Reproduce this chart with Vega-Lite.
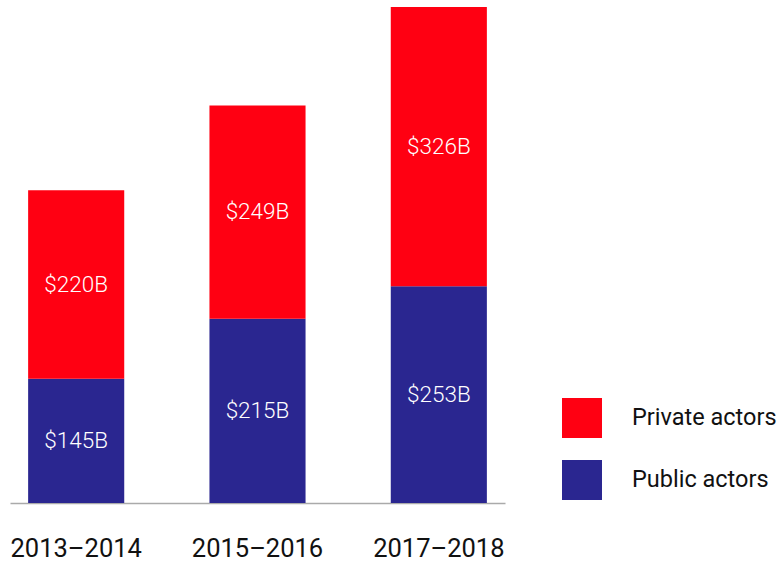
{
  "$schema": "https://vega.github.io/schema/vega-lite/v6.json",
  "width": 495,
  "height": 496,
  "autosize": {"type": "none"},
  "padding": {"left": 10, "top": 7, "right": 275, "bottom": 62},
  "background": "white",
  "config": {
    "view": {"stroke": null},
    "font": "Roboto",
    "text": {"font": "Roboto"}
  },
  "data": {
    "values": [
      {"period": "2013–2014", "actor": "Public actors", "value": 145, "label": "$145B"},
      {"period": "2013–2014", "actor": "Private actors", "value": 220, "label": "$220B"},
      {"period": "2015–2016", "actor": "Public actors", "value": 215, "label": "$215B"},
      {"period": "2015–2016", "actor": "Private actors", "value": 249, "label": "$249B"},
      {"period": "2017–2018", "actor": "Public actors", "value": 253, "label": "$253B"},
      {"period": "2017–2018", "actor": "Private actors", "value": 326, "label": "$326B"}
    ]
  },
  "transform": [
    {"stack": "value", "groupby": ["period"], "sort": [{"field": "actor", "order": "descending"}], "as": ["v0", "v1"]},
    {"calculate": "(datum.v0 + datum.v1) / 2", "as": "mid"}
  ],
  "encoding": {
    "x": {
      "field": "period",
      "type": "nominal",
      "scale": {"paddingInner": 0.47, "paddingOuter": 0.1},
      "axis": {
        "title": null,
        "ticks": false,
        "domainColor": "#aaaaaa",
        "domainWidth": 1.5,
        "labelAngle": 0,
        "labelFontSize": 25.5,
        "labelColor": "#111111",
        "labelPadding": 33,
        "labelFont": "Roboto"
      }
    }
  },
  "layer": [
    {
      "mark": {"type": "bar"},
      "encoding": {
        "y": {"field": "v0", "type": "quantitative", "scale": {"domain": [0, 579], "nice": false}, "axis": null},
        "y2": {"field": "v1"},
        "color": {
          "field": "actor",
          "type": "nominal",
          "scale": {"domain": ["Private actors", "Public actors"], "range": ["#ff0012", "#2a2690"]},
          "legend": {
            "title": null,
            "orient": "none",
            "legendX": 552,
            "legendY": 391,
            "symbolType": "square",
            "symbolSize": 1600,
            "symbolStrokeWidth": 0,
            "symbolOpacity": 1,
            "labelFontSize": 23.5,
            "labelFont": "Roboto",
            "labelColor": "#111111",
            "labelOffset": 30,
            "rowPadding": 22,
            "padding": 0
          }
        }
      }
    },
    {
      "mark": {"type": "text", "color": "white", "fontSize": 22.5, "fontWeight": 300, "font": "Roboto", "baseline": "middle"},
      "encoding": {
        "y": {"field": "mid", "type": "quantitative"},
        "text": {"field": "label"}
      }
    }
  ]
}
